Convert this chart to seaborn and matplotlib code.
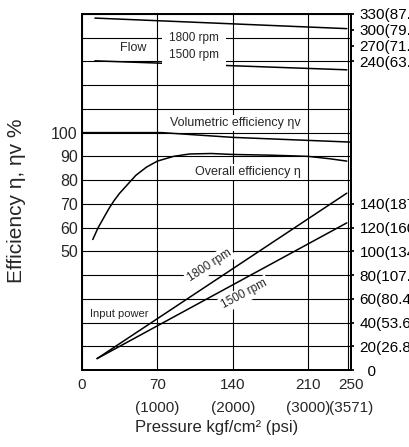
import numpy as np
import pandas as pd
import matplotlib.pyplot as plt
import seaborn as sns

# values (pressure in kgf/cm2)
overall_p = [10, 15, 20, 25, 30, 35, 40, 50, 60, 70, 85, 100, 120, 140, 175, 210, 230, 246]
overall_eff = [55, 60, 64, 68, 71.5, 74.5, 77, 82, 85.5, 88, 90, 91, 91.2, 90.8, 90.5, 90, 89, 88]
vol_p = [0, 74, 140, 250]
vol_eff = [100, 100, 98, 96]
power_p = [14, 246]
power_1800 = [9.7, 149]
power_1500 = [9.7, 124]
flow_p = [12, 246]
flow_1800 = [322, 302]
flow_1500 = [241, 224]

x_ticks = [0, 70, 140, 210, 250]
x_labels = ['0', '70\n(1000)', '140\n(2000)', '210\n(3000)', '250\n(3571)']
eff_ticks = list(range(0, 151, 10))
eff_labels = [str(v) if 50 <= v <= 100 else '' for v in eff_ticks]
power_ticks = [0, 20, 40, 60, 80, 100, 120, 140]
power_labels = ['  0', '20(26.8)', '40(53.6)', '60(80.4)', '80(107.2)',
                '100(134.1)', '120(160.9)', '140(187.7)']
flow_ticks = [240, 270, 300, 330]
flow_labels = ['240(63.4)', '270(71.3)', '300(79.3)', '330(87.2)']

sns.set_theme(style='white')
plt.rcParams['font.family'] = ['Liberation Sans', 'DejaVu Sans']

fig = plt.figure(figsize=(4.09, 4.47), dpi=100)
ax = fig.add_axes([0.2005, 0.172, 0.658, 0.797])
ax_p = ax.twinx()
ax_f = ax.twinx()

# efficiency on the left scale
sns.lineplot(x=overall_p, y=overall_eff, ax=ax, color='black', lw=1.1)
sns.lineplot(x=vol_p, y=vol_eff, ax=ax, color='black', lw=1.1)
# input power (kW) on the lower right scale
sns.lineplot(x=power_p, y=power_1800, ax=ax_p, color='black', lw=1.1)
sns.lineplot(x=power_p, y=power_1500, ax=ax_p, color='black', lw=1.1)
# flow (L/min) on the upper right scale
sns.lineplot(x=flow_p, y=flow_1800, ax=ax_f, color='black', lw=1.1)
sns.lineplot(x=flow_p, y=flow_1500, ax=ax_f, color='black', lw=1.1)

ax.set_xlim(0, 250)
ax.set_ylim(0, 150)
ax_p.set_ylim(0, 300)
ax_f.set_ylim(240 - 13 * 45, 240 + 2 * 45)

ax.set_xticks(x_ticks, x_labels, fontsize=11)
for lbl in ax.get_xticklabels():
    lbl.set_linespacing(1.75)
ax.set_yticks(eff_ticks, eff_labels, fontsize=11.5)
ax.tick_params(axis='x', length=0, pad=6)
ax.tick_params(axis='y', length=0, pad=3)
ax.grid(True, color='black', lw=0.8)
ax.axvline(247, color='black', lw=0.8)

ax_p.set_yticks(power_ticks, power_labels, fontsize=11)
ax_f.set_yticks(flow_ticks, flow_labels, fontsize=11)
for a in (ax_p, ax_f):
    a.tick_params(axis='y', length=2, pad=4, direction='out', colors='black')
    a.grid(False)
    a.set_ylabel('')

for a in (ax, ax_p, ax_f):
    for s in a.spines.values():
        s.set_color('black')
        s.set_linewidth(1.2)

ax.set_xlabel('Pressure kgf/cm² (psi)', fontsize=12, labelpad=4)
ax.set_ylabel('')
fig.text(0.04, 1 - 201 / 447, 'Efficiency η, ηv %', rotation=90,
         ha='center', va='center', fontsize=15)

box = dict(facecolor='white', edgecolor='none', pad=1.5)
tr = ax.transData
ax_f.text(48, 135.6, 'Flow', transform=tr, ha='center', va='center', fontsize=9, bbox=box)
ax_f.text(81, 136.3, '1800 rpm\n1500 rpm', transform=tr, ha='left', va='center',
          fontsize=8.5, linespacing=1.5, bbox=dict(facecolor='white', edgecolor='none', pad=5))
ax_f.text(142.6, 104, 'Volumetric efficiency ηv', transform=tr, ha='center', va='center',
          fontsize=9, bbox=box)
ax_f.text(153.7, 83.3, 'Overall efficiency η', transform=tr, ha='center', va='center',
          fontsize=9, bbox=box)
ax_f.text(35, 23.8, 'Input power', transform=tr, ha='center', va='center', fontsize=8, bbox=box)
ax_f.text(118.5, 44.1, '1800 rpm', transform=tr, ha='center', va='center', fontsize=8.5,
          rotation=33, bbox=box)
ax_f.text(151, 31.9, '1500 rpm', transform=tr, ha='center', va='center', fontsize=8.5,
          rotation=28, bbox=box)

plt.savefig('out.png', dpi=100)
